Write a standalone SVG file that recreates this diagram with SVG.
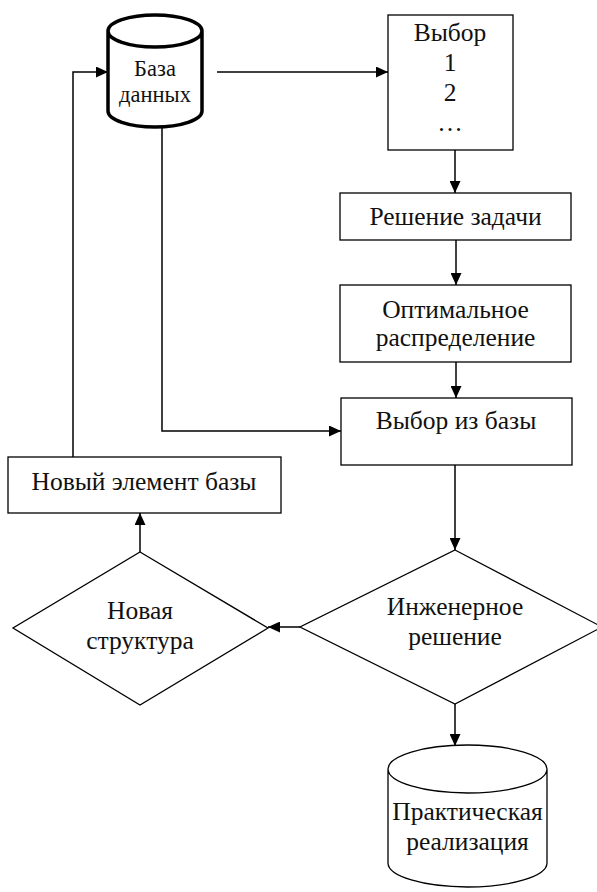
<svg xmlns="http://www.w3.org/2000/svg" width="597" height="892" viewBox="0 0 597 892">
<defs>
<style>
.s{fill:#fff;stroke:#000;stroke-width:1.3}
.db{fill:#fff;stroke:#000;stroke-width:3.5}
.t{font-family:"Liberation Serif","Times New Roman",serif;font-size:25.5px;fill:#111;text-anchor:middle}
.c{fill:none;stroke:#000;stroke-width:1.5}
</style>
<marker id="a" markerUnits="userSpaceOnUse" markerWidth="12" markerHeight="11" refX="12" refY="5.5" orient="auto">
<path d="M0,0 L12,5.5 L0,11 z" fill="#000"/>
</marker>
</defs>
<g id="connectors">
<path class="c" d="M217,72 L388,72" marker-end="url(#a)"/>
<path class="c" d="M455,150 L455,193" marker-end="url(#a)"/>
<path class="c" d="M456,240 L456,285" marker-end="url(#a)"/>
<path class="c" d="M456,362 L456,398" marker-end="url(#a)"/>
<path class="c" d="M162,127 L162,431 L341,431" marker-end="url(#a)"/>
<path class="c" d="M455,465 L455,550" marker-end="url(#a)"/>
<path class="c" d="M300,627 L268,627" marker-end="url(#a)"/>
<path class="c" d="M140,552 L140,513" marker-end="url(#a)"/>
<path class="c" d="M73,457 L73,72 L108,72" marker-end="url(#a)"/>
<path class="c" d="M455,704 L455,746" marker-end="url(#a)"/>
</g>
<g id="db">
<path class="db" d="M108,31 L108,111 A47,16 0 0 0 202,111 L202,31 A47,16 0 0 0 108,31 A47,16 0 0 0 202,31"/>
<text class="t" x="155" y="76" style="font-size:22.5px">База</text>
<text class="t" x="155" y="102" style="font-size:22.5px">данных</text>
</g>
<g id="vybor">
<rect class="s" x="388" y="15" width="125" height="135"/>
<text class="t" x="450" y="41">Выбор</text>
<text class="t" x="450" y="71">1</text>
<text class="t" x="450" y="101">2</text>
<text class="t" x="450" y="131">…</text>
</g>
<g id="reshenie">
<rect class="s" x="340" y="193" width="231" height="47"/>
<text class="t" x="455.5" y="225">Решение задачи</text>
</g>
<g id="optim">
<rect class="s" x="340" y="285" width="231" height="77"/>
<text class="t" x="455.5" y="318">Оптимальное</text>
<text class="t" x="455.5" y="346">распределение</text>
</g>
<g id="vybor-iz-bazy">
<rect class="s" x="341" y="398" width="231" height="67"/>
<text class="t" x="456" y="429">Выбор из базы</text>
</g>
<g id="inzh">
<polygon class="s" points="455,550 602,627 455,704 300,627"/>
<text class="t" x="455" y="615">Инженерное</text>
<text class="t" x="455" y="645">решение</text>
</g>
<g id="novaya">
<polygon class="s" points="140,552 268,628 140,705 13,628"/>
<text class="t" x="140" y="619">Новая</text>
<text class="t" x="140" y="649">структура</text>
</g>
<g id="novyi">
<rect class="s" x="8" y="457" width="273" height="56"/>
<text class="t" x="144" y="490">Новый элемент базы</text>
</g>
<g id="prakt">
<path class="s" d="M388,769 L388,863 A79.5,24 0 0 0 547,863 L547,769 A79.5,24 0 0 0 388,769 A79.5,24 0 0 0 547,769"/>
<text class="t" x="467.5" y="820">Практическая</text>
<text class="t" x="467.5" y="850">реализация</text>
</g>
</svg>
